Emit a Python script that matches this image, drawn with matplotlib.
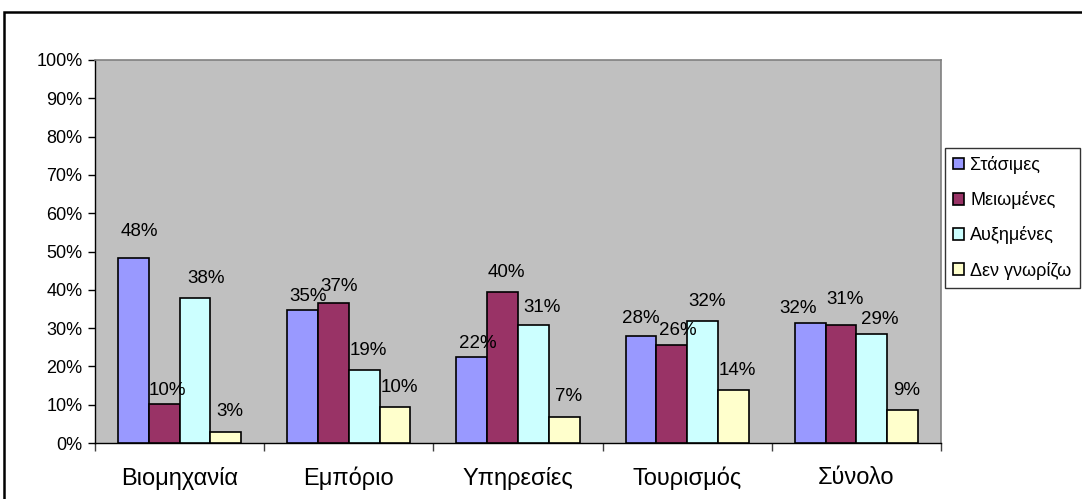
import matplotlib
matplotlib.use('Agg')
import matplotlib.pyplot as plt
from matplotlib.patches import Rectangle
from matplotlib.ticker import MultipleLocator, PercentFormatter
import numpy as np

plt.rcParams['font.family'] = ['Liberation Sans', 'DejaVu Sans']

categories = ['Βιομηχανία', 'Εμπόριο', 'Υπηρεσίες', 'Τουρισμός', 'Σύνολο']
series_names = ['Στάσιμες', 'Μειωμένες', 'Αυξημένες', 'Δεν γνωρίζω']
stasimes = [48.2, 34.6, 22.4, 28.0, 31.4]
meiomenes = [10.1, 36.5, 39.3, 25.7, 30.9]
afximenes = [37.9, 19.1, 30.9, 31.9, 28.5]
den_gnorizo = [3.0, 9.3, 6.9, 13.9, 8.7]
labels_stasimes = ['48%', '35%', '22%', '28%', '32%']
labels_meiomenes = ['10%', '37%', '40%', '26%', '31%']
labels_afximenes = ['38%', '19%', '31%', '32%', '29%']
labels_den = ['3%', '10%', '7%', '14%', '9%']

colors = ['#9999FF', '#993366', '#CCFFFF', '#FFFFCC']
series = [stasimes, meiomenes, afximenes, den_gnorizo]
series_labels = [labels_stasimes, labels_meiomenes, labels_afximenes, labels_den]

# label nudges in points (series index, category index) -> (dx, dy), like the hand-moved Excel labels
nudges = {(0, 0): (4, 7), (2, 0): (8, 2), (1, 0): (2, -2),
          (0, 1): (4, -2), (1, 1): (4, 0),
          (0, 2): (4, -2), (2, 2): (6, 0),
          (0, 3): (0, 0), (1, 3): (4, -2),
          (0, 4): (-9, -2), (1, 4): (3, 6), (2, 4): (6, -2)}

fig = plt.figure(figsize=(10.82, 4.99), dpi=100)
ax = fig.add_axes([95/1082, 56/499, 846/1082, 383/499])

# outer chart border
fig.patches.append(Rectangle((4/1082, -0.05), 1.1, 1 - 12/499 + 0.05, transform=fig.transFigure,
                             fill=False, edgecolor='black', linewidth=1.8, zorder=0))

ax.set_facecolor('#C0C0C0')
x = np.arange(len(categories))
width = 0.182
for i, (vals, lab, col) in enumerate(zip(series, series_labels, colors)):
    pos = x + (i - 1.5) * width
    ax.bar(pos, vals, width=width, color=col, edgecolor='black', linewidth=1.2,
           label=series_names[i], zorder=3)
    for j, (px, v, t) in enumerate(zip(pos, vals, lab)):
        dx, dy = nudges.get((i, j), (3, 2))
        ax.annotate(t, (px, v), xytext=(dx, dy + 6), textcoords='offset points',
                    ha='center', va='bottom', fontsize=13.5, zorder=4)

ax.set_xlim(-0.5, len(categories) - 0.5)
ax.set_ylim(0, 100)
ax.yaxis.set_major_locator(MultipleLocator(10))
ax.yaxis.set_major_formatter(PercentFormatter(decimals=0))
ax.set_xticks(np.arange(len(categories) + 1) - 0.5)
ax.set_xticklabels([])
ax.set_xticks(x, minor=True)
ax.set_xticklabels(categories, minor=True, fontsize=17)
ax.tick_params(axis='x', which='minor', length=0, pad=17)
ax.tick_params(axis='x', which='major', length=6, width=1, direction='out', color='#404040')
ax.tick_params(axis='y', length=5, width=1, direction='out', labelsize=13, pad=4)

for s in ['top', 'right']:
    ax.spines[s].set_color('#808080')
    ax.spines[s].set_linewidth(1.2)
for s in ['left', 'bottom']:
    ax.spines[s].set_color('black')
    ax.spines[s].set_linewidth(1)

leg = fig.legend(loc='upper left', bbox_to_anchor=(945/1082, 1 - 148/499), fontsize=13,
                 frameon=True, fancybox=False, edgecolor='black', handlelength=0.6,
                 handleheight=0.6, handletextpad=0.35, labelspacing=0.95, borderpad=0.45,
                 borderaxespad=0)
leg.get_frame().set_linewidth(1)

plt.savefig('out.png', dpi=100)
